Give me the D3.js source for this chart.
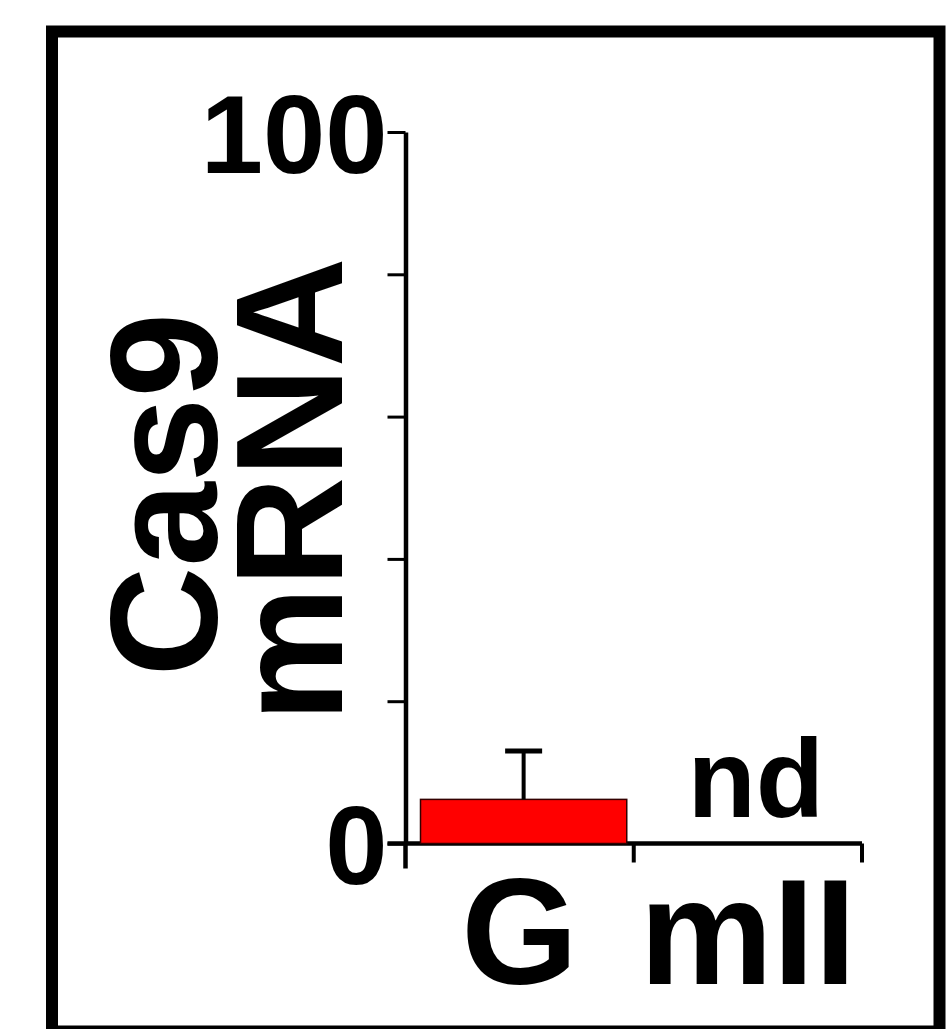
<!DOCTYPE html>
<html>
<head>
<meta charset="utf-8">
<script src="https://cdn.jsdelivr.net/npm/d3@7"></script>
<style>
  html, body { margin: 0; padding: 0; background: #fff; }
  svg { display: block; }
  text { font-family: "Liberation Sans", Arial, Helvetica, sans-serif; font-weight: bold; fill: #000; }
</style>
</head>
<body>
<div id="chart"></div>
<script>
// data
const categories = ['G', 'mII'];
const means = [6.2, null];      // null = not detected
const errors = [6.8, null];
const yTicks = [0, 20, 40, 60, 80, 100];
const yTickLabels = ['0', '', '', '', '', '100'];
const yLabelLines = ['Cas9', 'mRNA'];
const ndLabel = 'nd';

const W = 946, H = 1029;

const svg = d3.select('#chart').append('svg')
  .attr('width', W)
  .attr('height', H);

// frame round the panel
svg.append('rect')
  .attr('x', 52).attr('y', 31.5)
  .attr('width', 887.5).attr('height', 1000)
  .attr('fill', 'none')
  .attr('stroke', '#000')
  .attr('stroke-width', 12);

const yScale = d3.scaleLinear()
  .domain([0, 100])
  .range([843.5, 132]);

const xScale = d3.scaleBand()
  .domain(categories)
  .range([405.5, 862])
  .padding(0);

// y axis
const yAxis = svg.append('g')
  .attr('transform', 'translate(' + xScale.range()[0] + ',0)')
  .call(d3.axisLeft(yScale)
    .tickValues(yTicks)
    .tickSize(18)
    .tickSizeOuter(0)
    .tickPadding(0)
    .tickFormat((d, i) => yTickLabels[i]));

yAxis.select('.domain').attr('stroke-width', 4.5);
yAxis.selectAll('.tick line').attr('stroke-width', 3);
yAxis.selectAll('.tick text')
  .attr('font-size', 112)
  .attr('dy', '0.36em')
  .style('font-family', '"Liberation Sans", Arial, sans-serif')
  .style('font-weight', 'bold');

// y axis runs past the baseline a little
svg.append('line')
  .attr('x1', xScale.range()[0]).attr('x2', xScale.range()[0])
  .attr('y1', yScale(0)).attr('y2', yScale(0) + 25)
  .attr('stroke', '#000').attr('stroke-width', 4.5);

// x axis
svg.append('line')
  .attr('x1', xScale.range()[0] - 18).attr('x2', xScale.range()[1])
  .attr('y1', yScale(0)).attr('y2', yScale(0))
  .attr('stroke', '#000').attr('stroke-width', 4.5);

const bounds = categories.slice(1).map(c => xScale(c)).concat([xScale.range()[1]]);
svg.selectAll('.xtick').data(bounds).enter().append('line')
  .attr('class', 'xtick')
  .attr('x1', d => d).attr('x2', d => d)
  .attr('y1', yScale(0)).attr('y2', yScale(0) + 19)
  .attr('stroke', '#000').attr('stroke-width', 4);

svg.selectAll('.xlabel').data(categories).enter().append('text')
  .attr('class', 'xlabel')
  .attr('x', d => xScale(d) + xScale.bandwidth() / 2)
  .attr('y', yScale(0) + 140)
  .attr('text-anchor', 'middle')
  .attr('font-size', 150)
  .text(d => d);

// bars
const barL = 15, barR = 7;
const rows = categories.map((c, i) => ({ cat: c, mean: means[i], err: errors[i] }));

svg.selectAll('.bar').data(rows.filter(d => d.mean != null)).enter().append('rect')
  .attr('class', 'bar')
  .attr('x', d => xScale(d.cat) + barL)
  .attr('width', xScale.bandwidth() - barL - barR)
  .attr('y', d => yScale(d.mean))
  .attr('height', d => yScale(0) - yScale(d.mean))
  .attr('fill', '#ff0000')
  .attr('stroke', '#300')
  .attr('stroke-width', 1.5);

// error bars (upper only)
const eb = svg.selectAll('.err').data(rows.filter(d => d.mean != null)).enter().append('g')
  .attr('class', 'err');
const cx = d => xScale(d.cat) + barL + (xScale.bandwidth() - barL - barR) / 2;
eb.append('line')
  .attr('x1', cx).attr('x2', cx)
  .attr('y1', d => yScale(d.mean)).attr('y2', d => yScale(d.mean + d.err))
  .attr('stroke', '#000').attr('stroke-width', 4);
eb.append('line')
  .attr('x1', d => cx(d) - 18.5).attr('x2', d => cx(d) + 18.5)
  .attr('y1', d => yScale(d.mean + d.err)).attr('y2', d => yScale(d.mean + d.err))
  .attr('stroke', '#000').attr('stroke-width', 5);

// not detected
svg.selectAll('.nd').data(rows.filter(d => d.mean == null)).enter().append('text')
  .attr('class', 'nd')
  .attr('x', d => cx(d) + 4)
  .attr('y', yScale(0) - 26.5)
  .attr('text-anchor', 'middle')
  .attr('font-size', 112)
  .text(ndLabel);

// y label, two lines, rotated
const midY = (yScale(0) + yScale(100)) / 2;
const yLab = svg.append('g');
yLab.append('text')
  .attr('transform', 'translate(217,' + (midY + 7) + ') rotate(-90)')
  .attr('text-anchor', 'middle')
  .attr('font-size', 152)
  .text(yLabelLines[0]);
yLab.append('text')
  .attr('transform', 'translate(342,' + (midY + 2) + ') rotate(-90)')
  .attr('text-anchor', 'middle')
  .attr('font-size', 152)
  .text(yLabelLines[1]);
</script>
</body>
</html>
